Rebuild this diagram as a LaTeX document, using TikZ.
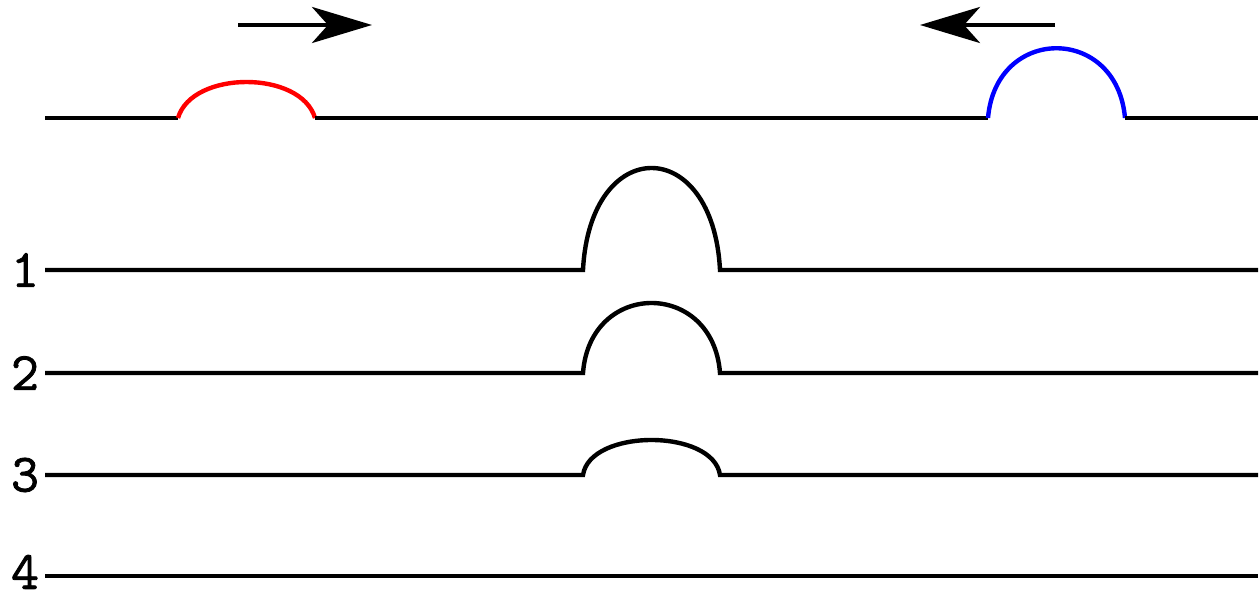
\documentclass[tikz,border=0pt]{standalone}
\usepackage{fontspec}
\usepackage{tikz}
\usetikzlibrary{arrows.meta}
\newfontfamily\digitfont[FakeBold=1.5]{Latin Modern Mono}

\begin{document}
\begin{tikzpicture}[
  x=0.5pt, y=-0.5pt,
  wire/.style={line width=2.2pt, black},
  pulse/.style={line width=2.2pt},
  label/.style={font=\fontsize{27}{27}\selectfont\digitfont, inner sep=0pt, anchor=center},
  move/.style={line width=2.2pt, -{Stealth[length=30pt, width=18pt, inset=8pt]}},
]
\useasboundingbox (0,0) rectangle (1260,593);
% top line with the two pulses
\draw[wire] (45,118) -- (178,118);
\draw[pulse, red] (178,118) .. controls (192,70) and (301,70) .. (315,118);
\draw[wire] (315,118) -- (988,118);
\draw[pulse, blue] (988,118) .. controls (996,25) and (1117,25) .. (1125,118);
\draw[wire] (1125,118) -- (1258,118);
% direction of travel
\coordinate (rtail) at (238,25); \coordinate (rhead) at (372,25);
\coordinate (ltail) at (1055,25); \coordinate (lhead) at (920,25);
\draw[move] (rtail) -- (rhead);
\draw[move] (ltail) -- (lhead);
% superposition, steps 1 to 3
\foreach \n/\y/\h in {1/270/102, 2/373/70, 3/475/35} {
  \node[label] (n\n) at (25,\y) {\n};
  \draw[wire] (45,\y) -- (583,\y)
    .. controls (590,\y-4*\h/3) and (713,\y-4*\h/3) .. (720,\y)
    -- (1258,\y);
}
% step 4, flat
\node[label] (n4) at (25,572) {4};
\draw[wire] (45,576) -- (1258,576);
\end{tikzpicture}
\end{document}
